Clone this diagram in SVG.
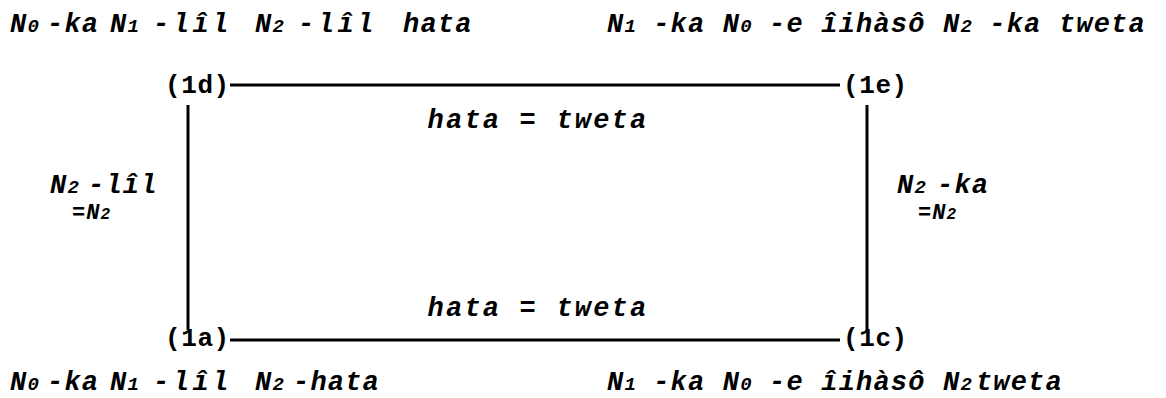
<svg xmlns="http://www.w3.org/2000/svg" width="1166" height="398" viewBox="0 0 1166 398">
<style>
.f{font-family:"Liberation Mono","DejaVu Sans Mono",monospace;font-weight:bold;font-style:italic;font-size:27px;letter-spacing:1.2px;fill:#000}
.s{font-size:19px;letter-spacing:0}
.w{letter-spacing:3.5px}
.n{font-family:"Liberation Mono","DejaVu Sans Mono",monospace;font-weight:bold;font-size:26px;letter-spacing:0.6px;fill:#000}
.e{letter-spacing:2.2px}
.m{font-size:22px;letter-spacing:1px}
.ms{font-size:16px}
.ln{stroke:#000;stroke-width:3;fill:none}
</style>
<rect width="1166" height="398" fill="#fff"/>
<g id="connectors">
<line class="ln" x1="230" y1="85" x2="840" y2="85"/>
<line class="ln" x1="230" y1="340" x2="840" y2="340"/>
<line class="ln" x1="188" y1="105" x2="188" y2="330"/>
<line class="ln" x1="867" y1="105" x2="867" y2="330"/>
<text class="f e" x="538" y="128" text-anchor="middle">hata = tweta</text>
<text class="f e" x="538" y="316" text-anchor="middle">hata = tweta</text>
<text class="f" y="193"><tspan x="50">N</tspan><tspan class="s">2</tspan><tspan x="88">-lîl</tspan></text>
<text class="f m" y="219"><tspan x="72">=N</tspan><tspan class="ms">2</tspan></text>
<text class="f" y="193"><tspan x="897">N</tspan><tspan class="s">2</tspan><tspan x="937">-ka</tspan></text>
<text class="f m" y="219"><tspan x="918">=N</tspan><tspan class="ms">2</tspan></text>
</g>
<g id="node-1d">
<text class="n" x="165" y="93">(1d)</text>
<text class="f" y="32"><tspan x="10">N</tspan><tspan class="s">0</tspan><tspan x="47">-ka</tspan><tspan x="110">N</tspan><tspan class="s">1</tspan><tspan x="153" class="w">-lîl</tspan><tspan x="255">N</tspan><tspan class="s">2</tspan><tspan x="298" class="w">-lîl</tspan><tspan x="403">hata</tspan></text>
</g>
<g id="node-1e">
<text class="n" x="843" y="93">(1e)</text>
<text class="f" x="607" y="32">N<tspan class="s">1</tspan> -ka N<tspan class="s">0</tspan> -e îihàsô N<tspan class="s">2</tspan> -ka tweta</text>
</g>
<g id="node-1a">
<text class="n" x="165" y="346">(1a)</text>
<text class="f" y="390"><tspan x="10">N</tspan><tspan class="s">0</tspan><tspan x="47">-ka</tspan><tspan x="110">N</tspan><tspan class="s">1</tspan><tspan x="153" class="w">-lîl</tspan><tspan x="255">N</tspan><tspan class="s">2</tspan><tspan x="293">-hata</tspan></text>
</g>
<g id="node-1c">
<text class="n" x="843" y="346">(1c)</text>
<text class="f" x="607" y="390">N<tspan class="s">1</tspan> -ka N<tspan class="s">0</tspan> -e îihàsô N<tspan class="s">2</tspan><tspan dx="4">tweta</tspan></text>
</g>
</svg>
